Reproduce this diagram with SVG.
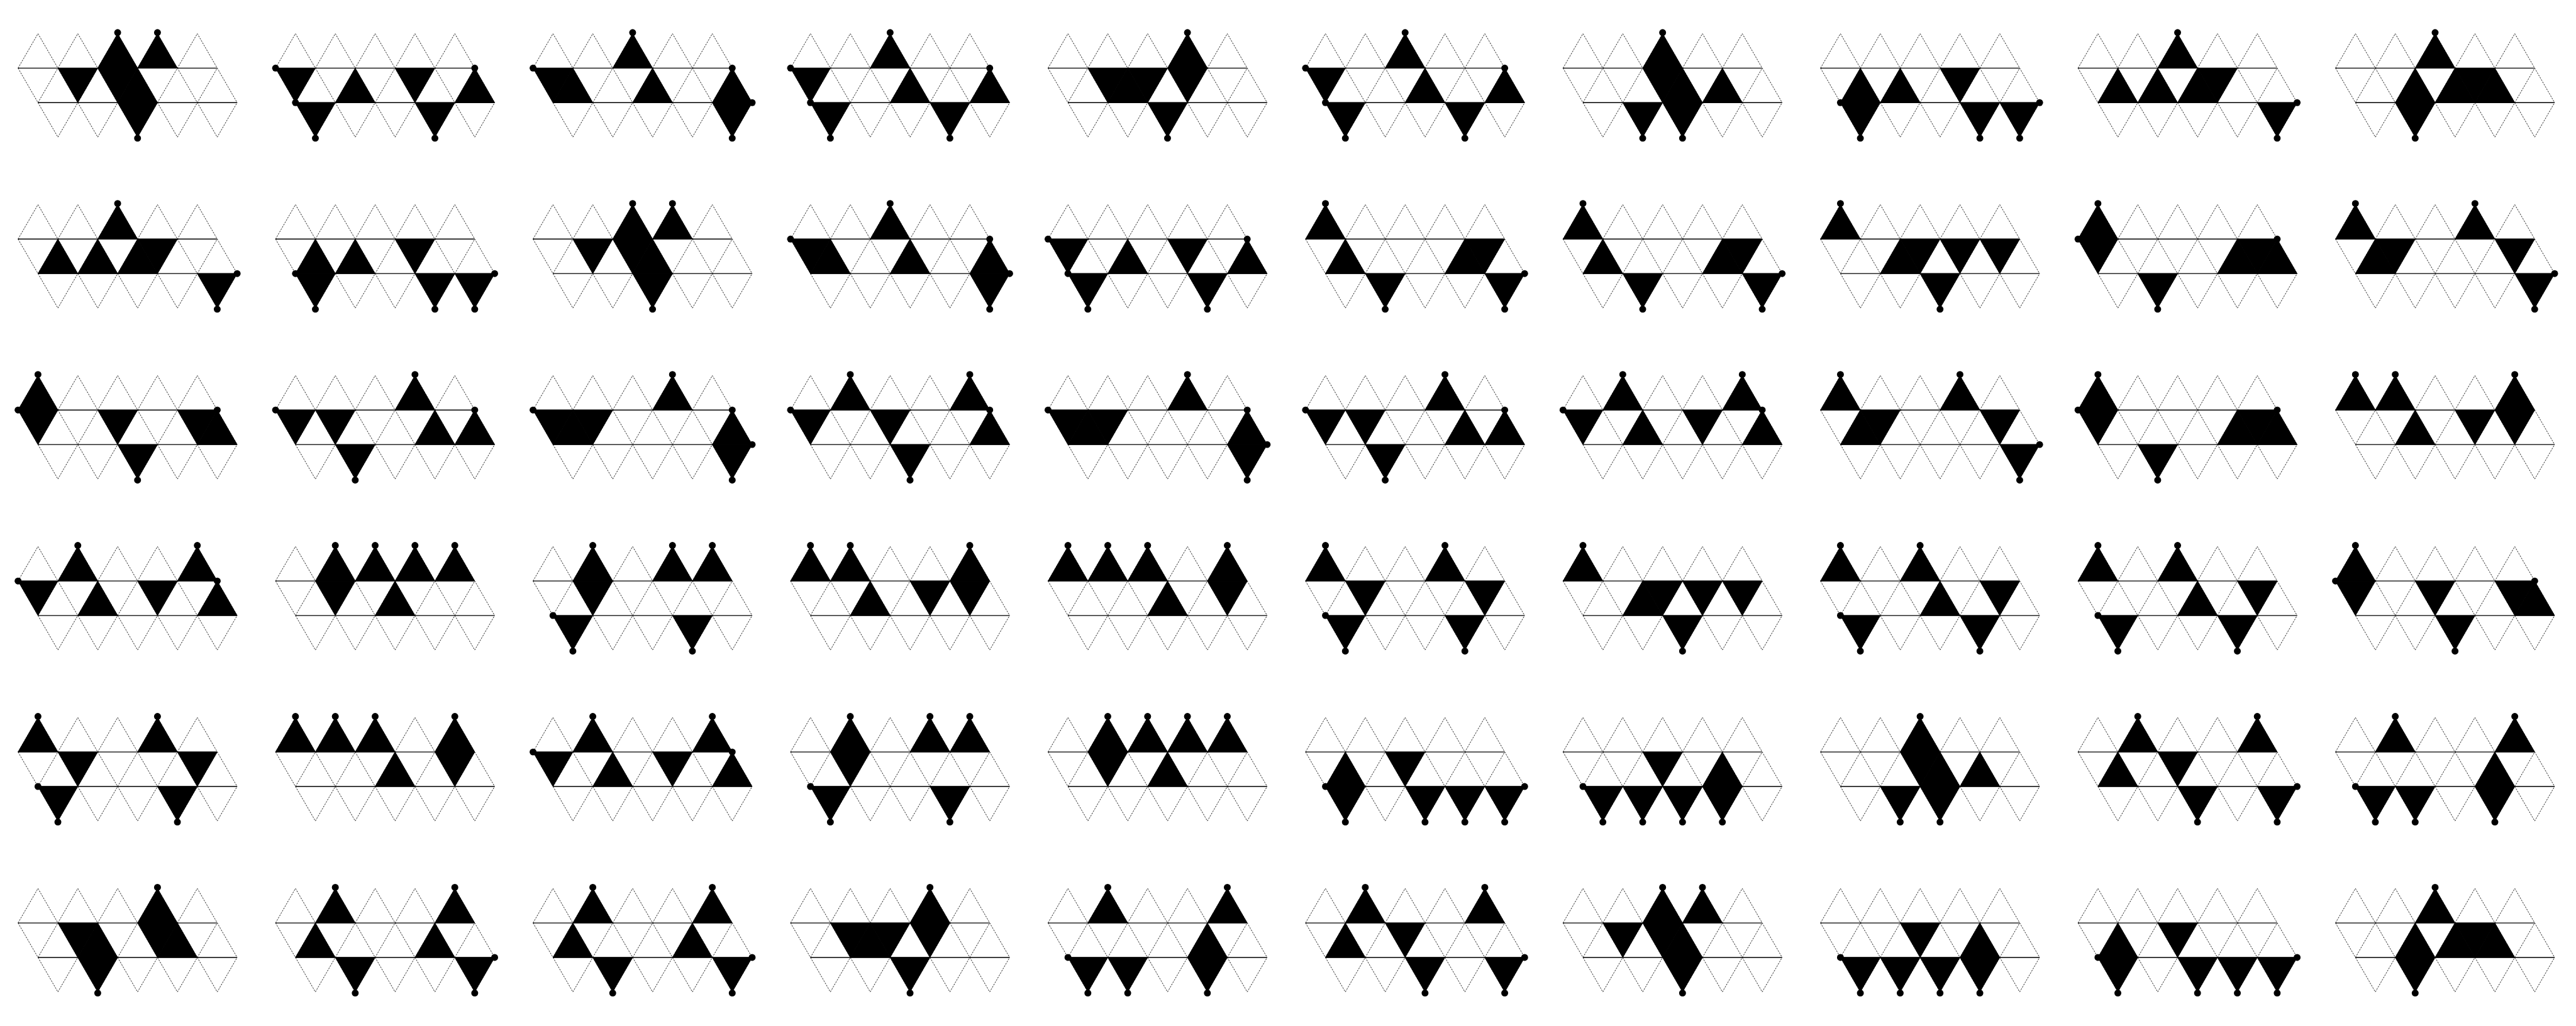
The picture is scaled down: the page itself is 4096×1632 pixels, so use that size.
<svg xmlns="http://www.w3.org/2000/svg" xmlns:xlink="http://www.w3.org/1999/xlink" width="4096" height="1632" viewBox="0 0 4096 1632">
<style>
.dg{fill:none;stroke:#000;stroke-width:1;stroke-dasharray:3 2}
.hz{fill:none;stroke:#000;stroke-width:1.6}
.k{fill:#000;stroke:#000;stroke-width:1}
</style>
<defs>
<g id="grid">
<path class="dg" d="M0,0L37.5,-65L75,0L112.5,-65L150,0L187.5,-65L225,0L262.5,-65L300,0L337.5,-65L375,0M0,0L37.5,65L75,0L112.5,65L150,0L187.5,65L225,0L262.5,65L300,0L337.5,65L375,0L412.5,65M37.5,65L75,130L112.5,65L150,130L187.5,65L225,130L262.5,65L300,130L337.5,65L375,130L412.5,65"/>
<path class="hz" d="M0,0H375M37.5,65H412.5"/>
</g>
<path id="U" class="k" d="M0,0H75L37.5,-65Z"/>
<path id="MD" class="k" d="M0,0H75L37.5,65Z"/>
<path id="MU" class="k" d="M37.5,65H112.5L75,0Z"/>
<path id="BD" class="k" d="M37.5,65H112.5L75,130Z"/>
<circle id="d" r="6.5" fill="#000"/>
</defs>
<rect width="4096" height="1632" fill="#fff"/>
<g transform="scale(0.84454)">
<!-- row 0 -->
<g id="p00" transform="translate(34,128.3)"><use href="#grid"/><use href="#U" x="150"/><use href="#U" x="225"/><use href="#MD" x="75"/><use href="#MD" x="150"/><use href="#MU" x="150"/><use href="#BD" x="150"/><use href="#d" x="187.5" y="-67"/><use href="#d" x="262.5" y="-67"/><use href="#d" x="225" y="132"/></g>
<g id="p01" transform="translate(518.8,128.3)"><use href="#grid"/><use href="#MD"/><use href="#MU" x="75"/><use href="#MD" x="225"/><use href="#MU" x="300"/><use href="#BD"/><use href="#BD" x="225"/><use href="#d"/><use href="#d" x="37.5" y="65"/><use href="#d" x="75" y="132"/><use href="#d" x="300" y="132"/><use href="#d" x="375" y="0"/></g>
<g id="p02" transform="translate(1003.6,128.3)"><use href="#grid"/><use href="#U" x="150"/><use href="#MD"/><use href="#MU"/><use href="#MU" x="150"/><use href="#MU" x="300"/><use href="#BD" x="300"/><use href="#d" x="187.5" y="-67"/><use href="#d"/><use href="#d" x="375" y="0"/><use href="#d" x="412.5" y="65"/><use href="#d" x="375" y="132"/></g>
<g id="p03" transform="translate(1488.4,128.3)"><use href="#grid"/><use href="#U" x="150"/><use href="#MD"/><use href="#MU" x="150"/><use href="#MU" x="300"/><use href="#BD"/><use href="#BD" x="225"/><use href="#d" x="187.5" y="-67"/><use href="#d"/><use href="#d" x="375" y="0"/><use href="#d" x="37.5" y="65"/><use href="#d" x="75" y="132"/><use href="#d" x="300" y="132"/></g>
<g id="p04" transform="translate(1973.2,128.3)"><use href="#grid"/><use href="#U" x="225"/><use href="#MD" x="225"/><use href="#MD" x="75"/><use href="#MU" x="75"/><use href="#MD" x="150"/><use href="#BD" x="150"/><use href="#d" x="262.5" y="-67"/><use href="#d" x="225" y="132"/></g>
<g id="p05" transform="translate(2458,128.3)"><use href="#grid"/><use href="#U" x="150"/><use href="#MD"/><use href="#MU" x="150"/><use href="#MU" x="300"/><use href="#BD"/><use href="#BD" x="225"/><use href="#d" x="187.5" y="-67"/><use href="#d"/><use href="#d" x="375" y="0"/><use href="#d" x="37.5" y="65"/><use href="#d" x="75" y="132"/><use href="#d" x="300" y="132"/></g>
<g id="p06" transform="translate(2942.8,128.3)"><use href="#grid"/><use href="#U" x="150"/><use href="#MD" x="150"/><use href="#MU" x="150"/><use href="#MU" x="225"/><use href="#BD" x="75"/><use href="#BD" x="150"/><use href="#d" x="187.5" y="-67"/><use href="#d" x="150" y="132"/><use href="#d" x="225" y="132"/></g>
<g id="p07" transform="translate(3427.6,128.3)"><use href="#grid"/><use href="#MU"/><use href="#MU" x="75"/><use href="#MD" x="225"/><use href="#BD"/><use href="#BD" x="225"/><use href="#BD" x="300"/><use href="#d" x="37.5" y="65"/><use href="#d" x="75" y="132"/><use href="#d" x="300" y="132"/><use href="#d" x="375" y="132"/><use href="#d" x="412.5" y="65"/></g>
<g id="p08" transform="translate(3912.4,128.3)"><use href="#grid"/><use href="#U" x="150"/><use href="#MU"/><use href="#MU" x="75"/><use href="#MU" x="150"/><use href="#MD" x="225"/><use href="#BD" x="300"/><use href="#d" x="187.5" y="-67"/><use href="#d" x="375" y="132"/><use href="#d" x="412.5" y="65"/></g>
<g id="p09" transform="translate(4397.2,128.3)"><use href="#grid"/><use href="#U" x="150"/><use href="#MU" x="75"/><use href="#MU" x="150"/><use href="#MD" x="225"/><use href="#MU" x="225"/><use href="#BD" x="75"/><use href="#d" x="187.5" y="-67"/><use href="#d" x="150" y="132"/></g>
<!-- row 1 -->
<g id="p10" transform="translate(34,450.3)"><use href="#grid"/><use href="#U" x="150"/><use href="#MU"/><use href="#MU" x="75"/><use href="#MU" x="150"/><use href="#MD" x="225"/><use href="#BD" x="300"/><use href="#d" x="187.5" y="-67"/><use href="#d" x="375" y="132"/><use href="#d" x="412.5" y="65"/></g>
<g id="p11" transform="translate(518.8,450.3)"><use href="#grid"/><use href="#MU"/><use href="#MU" x="75"/><use href="#MD" x="225"/><use href="#BD"/><use href="#BD" x="225"/><use href="#BD" x="300"/><use href="#d" x="37.5" y="65"/><use href="#d" x="75" y="132"/><use href="#d" x="300" y="132"/><use href="#d" x="375" y="132"/><use href="#d" x="412.5" y="65"/></g>
<g id="p12" transform="translate(1003.6,450.3)"><use href="#grid"/><use href="#U" x="150"/><use href="#U" x="225"/><use href="#MD" x="75"/><use href="#MD" x="150"/><use href="#MU" x="150"/><use href="#BD" x="150"/><use href="#d" x="187.5" y="-67"/><use href="#d" x="262.5" y="-67"/><use href="#d" x="225" y="132"/></g>
<g id="p13" transform="translate(1488.4,450.3)"><use href="#grid"/><use href="#U" x="150"/><use href="#MD"/><use href="#MU"/><use href="#MU" x="150"/><use href="#MU" x="300"/><use href="#BD" x="300"/><use href="#d" x="187.5" y="-67"/><use href="#d"/><use href="#d" x="375" y="0"/><use href="#d" x="412.5" y="65"/><use href="#d" x="375" y="132"/></g>
<g id="p14" transform="translate(1973.2,450.3)"><use href="#grid"/><use href="#MD"/><use href="#MU" x="75"/><use href="#MD" x="225"/><use href="#MU" x="300"/><use href="#BD"/><use href="#BD" x="225"/><use href="#d"/><use href="#d" x="37.5" y="65"/><use href="#d" x="75" y="132"/><use href="#d" x="300" y="132"/><use href="#d" x="375" y="0"/></g>
<g id="p15" transform="translate(2458,450.3)"><use href="#grid"/><use href="#U"/><use href="#MU"/><use href="#MU" x="225"/><use href="#MD" x="300"/><use href="#BD" x="75"/><use href="#BD" x="300"/><use href="#d" x="37.5" y="-67"/><use href="#d" x="150" y="132"/><use href="#d" x="375" y="132"/><use href="#d" x="412.5" y="65"/></g>
<g id="p16" transform="translate(2942.8,450.3)"><use href="#grid"/><use href="#U"/><use href="#MU"/><use href="#MU" x="225"/><use href="#MD" x="300"/><use href="#BD" x="75"/><use href="#BD" x="300"/><use href="#d" x="37.5" y="-67"/><use href="#d" x="150" y="132"/><use href="#d" x="375" y="132"/><use href="#d" x="412.5" y="65"/></g>
<g id="p17" transform="translate(3427.6,450.3)"><use href="#grid"/><use href="#U"/><use href="#MU" x="75"/><use href="#MD" x="150"/><use href="#MD" x="225"/><use href="#MD" x="300"/><use href="#BD" x="150"/><use href="#d" x="37.5" y="-67"/><use href="#d" x="225" y="132"/></g>
<g id="p18" transform="translate(3912.4,450.3)"><use href="#grid"/><use href="#U"/><use href="#MD"/><use href="#MU" x="225"/><use href="#MD" x="300"/><use href="#MU" x="300"/><use href="#BD" x="75"/><use href="#d" x="37.5" y="-67"/><use href="#d"/><use href="#d" x="375" y="0"/><use href="#d" x="150" y="132"/></g>
<g id="p19" transform="translate(4397.2,450.3)"><use href="#grid"/><use href="#U"/><use href="#U" x="225"/><use href="#MU"/><use href="#MD" x="75"/><use href="#MD" x="300"/><use href="#BD" x="300"/><use href="#d" x="37.5" y="-67"/><use href="#d" x="262.5" y="-67"/><use href="#d" x="375" y="132"/><use href="#d" x="412.5" y="65"/></g>
<!-- row 2 -->
<g id="p20" transform="translate(34,772.3)"><use href="#grid"/><use href="#U"/><use href="#MD"/><use href="#MD" x="150"/><use href="#MD" x="300"/><use href="#MU" x="300"/><use href="#BD" x="150"/><use href="#d" x="37.5" y="-67"/><use href="#d"/><use href="#d" x="375" y="0"/><use href="#d" x="225" y="132"/></g>
<g id="p21" transform="translate(518.8,772.3)"><use href="#grid"/><use href="#U" x="225"/><use href="#MD"/><use href="#MD" x="75"/><use href="#MU" x="225"/><use href="#MU" x="300"/><use href="#BD" x="75"/><use href="#d" x="262.5" y="-67"/><use href="#d"/><use href="#d" x="375" y="0"/><use href="#d" x="150" y="132"/></g>
<g id="p22" transform="translate(1003.6,772.3)"><use href="#grid"/><use href="#U" x="225"/><use href="#MD"/><use href="#MU"/><use href="#MD" x="75"/><use href="#MU" x="300"/><use href="#BD" x="300"/><use href="#d" x="262.5" y="-67"/><use href="#d"/><use href="#d" x="375" y="0"/><use href="#d" x="412.5" y="65"/><use href="#d" x="375" y="132"/></g>
<g id="p23" transform="translate(1488.4,772.3)"><use href="#grid"/><use href="#U" x="75"/><use href="#U" x="300"/><use href="#MD"/><use href="#MD" x="150"/><use href="#MU" x="300"/><use href="#BD" x="150"/><use href="#d" x="112.5" y="-67"/><use href="#d" x="337.5" y="-67"/><use href="#d"/><use href="#d" x="375" y="0"/><use href="#d" x="225" y="132"/></g>
<g id="p24" transform="translate(1973.2,772.3)"><use href="#grid"/><use href="#U" x="225"/><use href="#MD"/><use href="#MU"/><use href="#MD" x="75"/><use href="#MU" x="300"/><use href="#BD" x="300"/><use href="#d" x="262.5" y="-67"/><use href="#d"/><use href="#d" x="375" y="0"/><use href="#d" x="412.5" y="65"/><use href="#d" x="375" y="132"/></g>
<g id="p25" transform="translate(2458,772.3)"><use href="#grid"/><use href="#U" x="225"/><use href="#MD"/><use href="#MD" x="75"/><use href="#MU" x="225"/><use href="#MU" x="300"/><use href="#BD" x="75"/><use href="#d" x="262.5" y="-67"/><use href="#d"/><use href="#d" x="375" y="0"/><use href="#d" x="150" y="132"/></g>
<g id="p26" transform="translate(2942.8,772.3)"><use href="#grid"/><use href="#U" x="75"/><use href="#U" x="300"/><use href="#MD"/><use href="#MU" x="75"/><use href="#MD" x="225"/><use href="#MU" x="300"/><use href="#d" x="112.5" y="-67"/><use href="#d" x="337.5" y="-67"/><use href="#d"/><use href="#d" x="375" y="0"/></g>
<g id="p27" transform="translate(3427.6,772.3)"><use href="#grid"/><use href="#U"/><use href="#U" x="225"/><use href="#MU"/><use href="#MD" x="75"/><use href="#MD" x="300"/><use href="#BD" x="300"/><use href="#d" x="37.5" y="-67"/><use href="#d" x="262.5" y="-67"/><use href="#d" x="375" y="132"/><use href="#d" x="412.5" y="65"/></g>
<g id="p28" transform="translate(3912.4,772.3)"><use href="#grid"/><use href="#U"/><use href="#MD"/><use href="#MU" x="225"/><use href="#MD" x="300"/><use href="#MU" x="300"/><use href="#BD" x="75"/><use href="#d" x="37.5" y="-67"/><use href="#d"/><use href="#d" x="375" y="0"/><use href="#d" x="150" y="132"/></g>
<g id="p29" transform="translate(4397.2,772.3)"><use href="#grid"/><use href="#U"/><use href="#U" x="75"/><use href="#U" x="300"/><use href="#MU" x="75"/><use href="#MD" x="225"/><use href="#MD" x="300"/><use href="#d" x="37.5" y="-67"/><use href="#d" x="112.5" y="-67"/><use href="#d" x="337.5" y="-67"/></g>
<!-- row 3 -->
<g id="p30" transform="translate(34,1094.3)"><use href="#grid"/><use href="#U" x="75"/><use href="#U" x="300"/><use href="#MD"/><use href="#MU" x="75"/><use href="#MD" x="225"/><use href="#MU" x="300"/><use href="#d" x="112.5" y="-67"/><use href="#d" x="337.5" y="-67"/><use href="#d"/><use href="#d" x="375" y="0"/></g>
<g id="p31" transform="translate(518.8,1094.3)"><use href="#grid"/><use href="#U" x="75"/><use href="#U" x="150"/><use href="#U" x="225"/><use href="#U" x="300"/><use href="#MD" x="75"/><use href="#MU" x="150"/><use href="#d" x="112.5" y="-67"/><use href="#d" x="187.5" y="-67"/><use href="#d" x="262.5" y="-67"/><use href="#d" x="337.5" y="-67"/></g>
<g id="p32" transform="translate(1003.6,1094.3)"><use href="#grid"/><use href="#U" x="75"/><use href="#U" x="225"/><use href="#U" x="300"/><use href="#MD" x="75"/><use href="#BD"/><use href="#BD" x="225"/><use href="#d" x="112.5" y="-67"/><use href="#d" x="262.5" y="-67"/><use href="#d" x="337.5" y="-67"/><use href="#d" x="37.5" y="65"/><use href="#d" x="75" y="132"/><use href="#d" x="300" y="132"/></g>
<g id="p33" transform="translate(1488.4,1094.3)"><use href="#grid"/><use href="#U"/><use href="#U" x="75"/><use href="#U" x="300"/><use href="#MU" x="75"/><use href="#MD" x="225"/><use href="#MD" x="300"/><use href="#d" x="37.5" y="-67"/><use href="#d" x="112.5" y="-67"/><use href="#d" x="337.5" y="-67"/></g>
<g id="p34" transform="translate(1973.2,1094.3)"><use href="#grid"/><use href="#U"/><use href="#U" x="75"/><use href="#U" x="150"/><use href="#U" x="300"/><use href="#MU" x="150"/><use href="#MD" x="300"/><use href="#d" x="37.5" y="-67"/><use href="#d" x="112.5" y="-67"/><use href="#d" x="187.5" y="-67"/><use href="#d" x="337.5" y="-67"/></g>
<g id="p35" transform="translate(2458,1094.3)"><use href="#grid"/><use href="#U"/><use href="#U" x="225"/><use href="#MD" x="75"/><use href="#MD" x="300"/><use href="#BD"/><use href="#BD" x="225"/><use href="#d" x="37.5" y="-67"/><use href="#d" x="262.5" y="-67"/><use href="#d" x="37.5" y="65"/><use href="#d" x="75" y="132"/><use href="#d" x="300" y="132"/></g>
<g id="p36" transform="translate(2942.8,1094.3)"><use href="#grid"/><use href="#U"/><use href="#MU" x="75"/><use href="#MD" x="150"/><use href="#MD" x="225"/><use href="#MD" x="300"/><use href="#BD" x="150"/><use href="#d" x="37.5" y="-67"/><use href="#d" x="225" y="132"/></g>
<g id="p37" transform="translate(3427.6,1094.3)"><use href="#grid"/><use href="#U"/><use href="#U" x="150"/><use href="#MU" x="150"/><use href="#MD" x="300"/><use href="#BD"/><use href="#BD" x="225"/><use href="#d" x="37.5" y="-67"/><use href="#d" x="187.5" y="-67"/><use href="#d" x="37.5" y="65"/><use href="#d" x="75" y="132"/><use href="#d" x="300" y="132"/></g>
<g id="p38" transform="translate(3912.4,1094.3)"><use href="#grid"/><use href="#U"/><use href="#U" x="150"/><use href="#MU" x="150"/><use href="#MD" x="300"/><use href="#BD"/><use href="#BD" x="225"/><use href="#d" x="37.5" y="-67"/><use href="#d" x="187.5" y="-67"/><use href="#d" x="37.5" y="65"/><use href="#d" x="75" y="132"/><use href="#d" x="300" y="132"/></g>
<g id="p39" transform="translate(4397.2,1094.3)"><use href="#grid"/><use href="#U"/><use href="#MD"/><use href="#MD" x="150"/><use href="#MD" x="300"/><use href="#MU" x="300"/><use href="#BD" x="150"/><use href="#d" x="37.5" y="-67"/><use href="#d"/><use href="#d" x="375" y="0"/><use href="#d" x="225" y="132"/></g>
<!-- row 4 -->
<g id="p40" transform="translate(34,1416.3)"><use href="#grid"/><use href="#U"/><use href="#U" x="225"/><use href="#MD" x="75"/><use href="#MD" x="300"/><use href="#BD"/><use href="#BD" x="225"/><use href="#d" x="37.5" y="-67"/><use href="#d" x="262.5" y="-67"/><use href="#d" x="37.5" y="65"/><use href="#d" x="75" y="132"/><use href="#d" x="300" y="132"/></g>
<g id="p41" transform="translate(518.8,1416.3)"><use href="#grid"/><use href="#U"/><use href="#U" x="75"/><use href="#U" x="150"/><use href="#U" x="300"/><use href="#MU" x="150"/><use href="#MD" x="300"/><use href="#d" x="37.5" y="-67"/><use href="#d" x="112.5" y="-67"/><use href="#d" x="187.5" y="-67"/><use href="#d" x="337.5" y="-67"/></g>
<g id="p42" transform="translate(1003.6,1416.3)"><use href="#grid"/><use href="#U" x="75"/><use href="#U" x="300"/><use href="#MD"/><use href="#MU" x="75"/><use href="#MD" x="225"/><use href="#MU" x="300"/><use href="#d" x="112.5" y="-67"/><use href="#d" x="337.5" y="-67"/><use href="#d"/><use href="#d" x="375" y="0"/></g>
<g id="p43" transform="translate(1488.4,1416.3)"><use href="#grid"/><use href="#U" x="75"/><use href="#U" x="225"/><use href="#U" x="300"/><use href="#MD" x="75"/><use href="#BD"/><use href="#BD" x="225"/><use href="#d" x="112.5" y="-67"/><use href="#d" x="262.5" y="-67"/><use href="#d" x="337.5" y="-67"/><use href="#d" x="37.5" y="65"/><use href="#d" x="75" y="132"/><use href="#d" x="300" y="132"/></g>
<g id="p44" transform="translate(1973.2,1416.3)"><use href="#grid"/><use href="#U" x="75"/><use href="#U" x="150"/><use href="#U" x="225"/><use href="#U" x="300"/><use href="#MD" x="75"/><use href="#MU" x="150"/><use href="#d" x="112.5" y="-67"/><use href="#d" x="187.5" y="-67"/><use href="#d" x="262.5" y="-67"/><use href="#d" x="337.5" y="-67"/></g>
<g id="p45" transform="translate(2458,1416.3)"><use href="#grid"/><use href="#MU"/><use href="#MD" x="150"/><use href="#BD"/><use href="#BD" x="150"/><use href="#BD" x="225"/><use href="#BD" x="300"/><use href="#d" x="37.5" y="65"/><use href="#d" x="75" y="132"/><use href="#d" x="225" y="132"/><use href="#d" x="300" y="132"/><use href="#d" x="375" y="132"/><use href="#d" x="412.5" y="65"/></g>
<g id="p46" transform="translate(2942.8,1416.3)"><use href="#grid"/><use href="#MD" x="150"/><use href="#MU" x="225"/><use href="#BD"/><use href="#BD" x="75"/><use href="#BD" x="150"/><use href="#BD" x="225"/><use href="#d" x="37.5" y="65"/><use href="#d" x="75" y="132"/><use href="#d" x="150" y="132"/><use href="#d" x="225" y="132"/><use href="#d" x="300" y="132"/></g>
<g id="p47" transform="translate(3427.6,1416.3)"><use href="#grid"/><use href="#U" x="150"/><use href="#MD" x="150"/><use href="#MU" x="150"/><use href="#MU" x="225"/><use href="#BD" x="75"/><use href="#BD" x="150"/><use href="#d" x="187.5" y="-67"/><use href="#d" x="150" y="132"/><use href="#d" x="225" y="132"/></g>
<g id="p48" transform="translate(3912.4,1416.3)"><use href="#grid"/><use href="#U" x="75"/><use href="#U" x="300"/><use href="#MU"/><use href="#MD" x="150"/><use href="#BD" x="150"/><use href="#BD" x="300"/><use href="#d" x="112.5" y="-67"/><use href="#d" x="337.5" y="-67"/><use href="#d" x="225" y="132"/><use href="#d" x="375" y="132"/><use href="#d" x="412.5" y="65"/></g>
<g id="p49" transform="translate(4397.2,1416.3)"><use href="#grid"/><use href="#U" x="75"/><use href="#U" x="300"/><use href="#MU" x="225"/><use href="#BD"/><use href="#BD" x="75"/><use href="#BD" x="225"/><use href="#d" x="112.5" y="-67"/><use href="#d" x="337.5" y="-67"/><use href="#d" x="37.5" y="65"/><use href="#d" x="75" y="132"/><use href="#d" x="150" y="132"/><use href="#d" x="300" y="132"/></g>
<!-- row 5 -->
<g id="p50" transform="translate(34,1738.3)"><use href="#grid"/><use href="#U" x="225"/><use href="#MD" x="75"/><use href="#MU" x="75"/><use href="#MD" x="225"/><use href="#MU" x="225"/><use href="#BD" x="75"/><use href="#d" x="262.5" y="-67"/><use href="#d" x="150" y="132"/></g>
<g id="p51" transform="translate(518.8,1738.3)"><use href="#grid"/><use href="#U" x="75"/><use href="#U" x="300"/><use href="#MU"/><use href="#MU" x="225"/><use href="#BD" x="75"/><use href="#BD" x="300"/><use href="#d" x="112.5" y="-67"/><use href="#d" x="337.5" y="-67"/><use href="#d" x="150" y="132"/><use href="#d" x="375" y="132"/><use href="#d" x="412.5" y="65"/></g>
<g id="p52" transform="translate(1003.6,1738.3)"><use href="#grid"/><use href="#U" x="75"/><use href="#U" x="300"/><use href="#MU"/><use href="#MU" x="225"/><use href="#BD" x="75"/><use href="#BD" x="300"/><use href="#d" x="112.5" y="-67"/><use href="#d" x="337.5" y="-67"/><use href="#d" x="150" y="132"/><use href="#d" x="375" y="132"/><use href="#d" x="412.5" y="65"/></g>
<g id="p53" transform="translate(1488.4,1738.3)"><use href="#grid"/><use href="#U" x="225"/><use href="#MD" x="225"/><use href="#MD" x="75"/><use href="#MU" x="75"/><use href="#MD" x="150"/><use href="#BD" x="150"/><use href="#d" x="262.5" y="-67"/><use href="#d" x="225" y="132"/></g>
<g id="p54" transform="translate(1973.2,1738.3)"><use href="#grid"/><use href="#U" x="75"/><use href="#U" x="300"/><use href="#MU" x="225"/><use href="#BD"/><use href="#BD" x="75"/><use href="#BD" x="225"/><use href="#d" x="112.5" y="-67"/><use href="#d" x="337.5" y="-67"/><use href="#d" x="37.5" y="65"/><use href="#d" x="75" y="132"/><use href="#d" x="150" y="132"/><use href="#d" x="300" y="132"/></g>
<g id="p55" transform="translate(2458,1738.3)"><use href="#grid"/><use href="#U" x="75"/><use href="#U" x="300"/><use href="#MU"/><use href="#MD" x="150"/><use href="#BD" x="150"/><use href="#BD" x="300"/><use href="#d" x="112.5" y="-67"/><use href="#d" x="337.5" y="-67"/><use href="#d" x="225" y="132"/><use href="#d" x="375" y="132"/><use href="#d" x="412.5" y="65"/></g>
<g id="p56" transform="translate(2942.8,1738.3)"><use href="#grid"/><use href="#U" x="150"/><use href="#U" x="225"/><use href="#MD" x="75"/><use href="#MD" x="150"/><use href="#MU" x="150"/><use href="#BD" x="150"/><use href="#d" x="187.5" y="-67"/><use href="#d" x="262.5" y="-67"/><use href="#d" x="225" y="132"/></g>
<g id="p57" transform="translate(3427.6,1738.3)"><use href="#grid"/><use href="#MD" x="150"/><use href="#MU" x="225"/><use href="#BD"/><use href="#BD" x="75"/><use href="#BD" x="150"/><use href="#BD" x="225"/><use href="#d" x="37.5" y="65"/><use href="#d" x="75" y="132"/><use href="#d" x="150" y="132"/><use href="#d" x="225" y="132"/><use href="#d" x="300" y="132"/></g>
<g id="p58" transform="translate(3912.4,1738.3)"><use href="#grid"/><use href="#MU"/><use href="#MD" x="150"/><use href="#BD"/><use href="#BD" x="150"/><use href="#BD" x="225"/><use href="#BD" x="300"/><use href="#d" x="37.5" y="65"/><use href="#d" x="75" y="132"/><use href="#d" x="225" y="132"/><use href="#d" x="300" y="132"/><use href="#d" x="375" y="132"/><use href="#d" x="412.5" y="65"/></g>
<g id="p59" transform="translate(4397.2,1738.3)"><use href="#grid"/><use href="#U" x="150"/><use href="#MU" x="75"/><use href="#MU" x="150"/><use href="#MD" x="225"/><use href="#MU" x="225"/><use href="#BD" x="75"/><use href="#d" x="187.5" y="-67"/><use href="#d" x="150" y="132"/></g>
</g>
</svg>
